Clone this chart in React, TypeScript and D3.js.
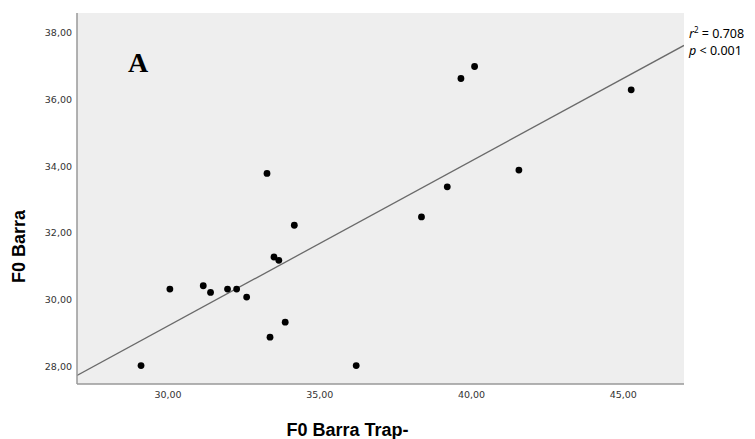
import React from "react";
import * as d3 from "d3";

const xValues = [29.11, 30.06, 31.16, 31.40, 31.96, 32.26, 32.59, 33.26, 33.36, 33.49, 33.65, 33.86, 34.16, 36.20, 38.35, 39.20, 39.65, 40.10, 41.56, 45.26];
const yValues = [28.03, 30.32, 30.42, 30.22, 30.32, 30.32, 30.08, 33.78, 28.88, 31.28, 31.18, 29.33, 32.23, 28.03, 32.48, 33.38, 36.62, 36.98, 33.88, 36.28];
const xTicks = [30, 35, 40, 45];
const yTicks = [28, 30, 32, 34, 36, 38];
const xDomain = [27, 47];
const yDomain = [27.48, 38.58];
const panelLabel = "A";
const xTitle = "F0 Barra Trap-";
const yTitle = "F0 Barra";
const r2Text = "0.708";
const pText = "0.001";

const W = 755, H = 439;
const L = 77, T = 13, R = 684, B = 384;

const fmt = (v: number) => d3.format(".2f")(v).replace(".", ",");

export default function App() {
  const x = d3.scaleLinear().domain(xDomain).range([L, R]);
  const y = d3.scaleLinear().domain(yDomain).range([B, T]);
  const mx = d3.mean(xValues)!;
  const my = d3.mean(yValues)!;
  let sxy = 0, sxx = 0;
  xValues.forEach((v, i) => { sxy += (v - mx) * (yValues[i] - my); sxx += (v - mx) * (v - mx); });
  const slope = sxy / sxx;
  const intercept = my - slope * mx;
  const line = d3.line<number>().x((d) => x(d)).y((d) => y(intercept + slope * d));
  return (
    <svg width={W} height={H} style={{ position: "absolute", left: 0, top: 0 }}>
      <rect x={0} y={0} width={W} height={H} fill="#fff" />
      <rect x={L} y={T} width={R - L} height={B - T} fill="#eeeeee" />
      <defs>
        <clipPath id="pc"><rect x={L} y={T} width={R - L} height={B - T} /></clipPath>
      </defs>
      <path d={line(xDomain) || ""} stroke="#6a6a6a" strokeWidth={1.3} fill="none" clipPath="url(#pc)" />
      {xValues.map((v, i) => (
        <circle key={i} cx={x(v)} cy={y(yValues[i])} r={3.4} fill="#000" />
      ))}
      <line x1={L} y1={T} x2={L} y2={B} stroke="#999" strokeWidth={1.5} />
      <line x1={L} y1={B} x2={R} y2={B} stroke="#999" strokeWidth={1.5} />
      {yTicks.map((t) => (
        <text key={t} x={72} y={y(t) + 3.5} textAnchor="end" fontFamily="DejaVu Sans" fontSize={9.5} fill="#333">{fmt(t)}</text>
      ))}
      {xTicks.map((t) => (
        <text key={t} x={x(t)} y={398} textAnchor="middle" fontFamily="DejaVu Sans" fontSize={9.5} fill="#333">{fmt(t)}</text>
      ))}
      <text x={128} y={72} fontFamily="Liberation Serif" fontWeight="bold" fontSize={28}>{panelLabel}</text>
      <text x={347.5} y={436} textAnchor="middle" fontFamily="Liberation Sans" fontWeight="bold" fontSize={18} fill="#000">{xTitle}</text>
      <text transform="translate(24.5,246.5) rotate(-90)" textAnchor="middle" fontFamily="Liberation Sans" fontWeight="bold" fontSize={18} fill="#000">{yTitle}</text>
      <text x={689} y={38} fontFamily="Noto Sans" fontSize={12.5} fill="#000">
        <tspan fontStyle="italic">r</tspan><tspan dy={-5} fontSize={8}>2</tspan><tspan dy={5}>{" = " + r2Text}</tspan>
      </text>
      <text x={689} y={55} fontFamily="Noto Sans" fontSize={12.5} fill="#000">
        <tspan fontStyle="italic">p</tspan><tspan>{" < " + pText}</tspan>
      </text>
    </svg>
  );
}
